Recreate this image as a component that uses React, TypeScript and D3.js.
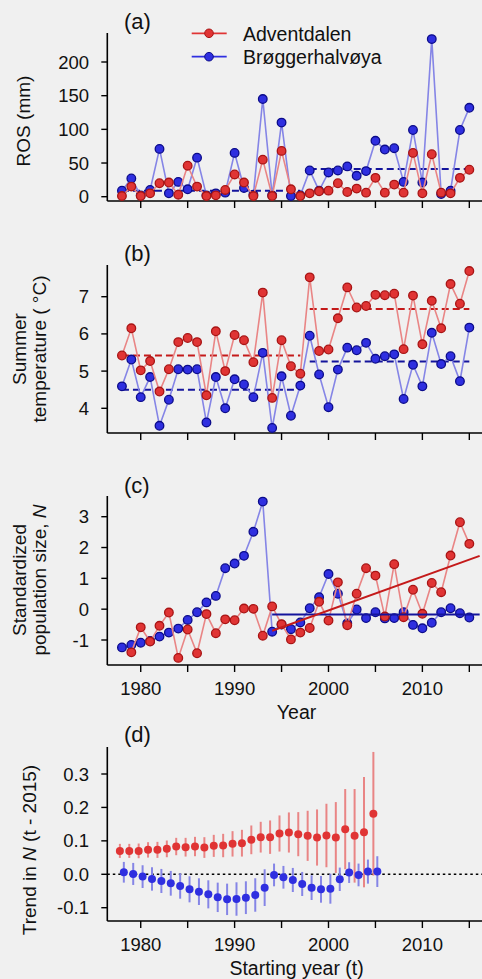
import React from 'react';
import * as d3 from 'd3';

// ---------- data ----------
const years = [1978, 1979, 1980, 1981, 1982, 1983, 1984, 1985, 1986, 1987, 1988, 1989, 1990, 1991, 1992, 1993, 1994, 1995, 1996, 1997, 1998, 1999, 2000, 2001, 2002, 2003, 2004, 2005, 2006, 2007, 2008, 2009, 2010, 2011, 2012, 2013, 2014, 2015];

const rosAdventdalen = [1, 15, 1, 5, 20, 21, 3, 46, 15, 1, 2, 10, 33, 21, 1, 55, 1, 68, 11, 1, 5, 8, 9, 20, 7, 12, 6, 28, 6, 18, 6, 65, 5, 63, 6, 5, 28, 40];
const rosBrogger = [9, 27, 2, 10, 71, 5, 22, 11, 58, 2, 5, 6, 65, 13, 3, 145, 2, 110, 1, 2, 39, 9, 36, 39, 45, 31, 38, 83, 70, 72, 22, 99, 21, 234, 4, 9, 99, 132];

const tempAdventdalen = [5.42, 6.15, 5.02, 5.27, 4.45, 5.05, 5.78, 5.89, 5.78, 4.35, 6.07, 5.0, 5.97, 5.83, 5.24, 7.11, 4.28, 5.83, 5.13, 4.93, 7.52, 5.54, 5.58, 6.42, 7.25, 6.71, 6.75, 7.05, 7.04, 7.08, 5.59, 7.03, 5.72, 6.89, 6.15, 7.34, 6.81, 7.69];
const tempBrogger = [4.59, 5.31, 4.3, 4.84, 3.53, 4.23, 5.05, 5.04, 5.05, 3.62, 4.84, 4.0, 4.78, 4.64, 4.3, 5.49, 3.47, 4.86, 3.8, 4.61, 5.95, 4.91, 4.03, 5.04, 5.63, 5.56, 5.76, 5.33, 5.4, 5.45, 4.25, 5.17, 4.59, 6.03, 5.19, 5.4, 4.73, 6.17];

const popAdventdalen = [null, -1.4, -0.59, -1.05, -0.54, -0.11, -1.58, -0.66, -1.43, -0.16, -0.78, -0.33, -0.36, 0.02, 0.01, -0.86, 0.09, -0.49, -0.98, -0.76, -0.61, 0.24, -0.37, 0.87, -0.52, 0.5, 1.33, 1.09, -0.24, 1.46, -0.26, 0.63, -0.15, 0.85, 0.55, 1.74, 2.82, 2.12];
const popBrogger = [-1.24, -1.16, -1.09, -1.03, -0.89, -0.76, -0.63, -0.35, -0.1, 0.22, 0.43, 1.33, 1.48, 1.73, 2.51, 3.49, -0.73, -0.5, -0.65, -0.43, 0.03, 0.39, 1.14, 0.5, -0.46, -0.01, -0.29, -0.1, -0.3, -0.29, -0.1, -0.51, -0.62, -0.44, -0.1, 0.03, -0.13, -0.27];

// period levels (dashed lines)
const periodStarts = [1978, 1998];
const periodEnds = [1997, 2015];
const rosBroggerLevels = [9, 41];
const tempAdventdalenLevels = [5.42, 6.67];
const tempBroggerLevels = [4.5, 5.26];

// population trend lines (c)
const trendLineYears = [1994, 2016.1];
const popAdventdalenFit = [-0.7, 1.73];
const popBroggerFit = [-0.17, -0.17];

// (d) trend in N from starting year t to 2015
const startYears = [1978, 1979, 1980, 1981, 1982, 1983, 1984, 1985, 1986, 1987, 1988, 1989, 1990, 1991, 1992, 1993, 1994, 1995, 1996, 1997, 1998, 1999, 2000, 2001, 2002, 2003, 2004, 2005];
const trendAdventdalen = [0.07, 0.07, 0.07, 0.073, 0.073, 0.076, 0.083, 0.081, 0.083, 0.08, 0.085, 0.086, 0.091, 0.093, 0.103, 0.111, 0.111, 0.122, 0.125, 0.12, 0.115, 0.11, 0.116, 0.11, 0.135, 0.115, 0.126, 0.181];
const trendAdventdalenErr = [0.021, 0.021, 0.022, 0.023, 0.024, 0.025, 0.026, 0.028, 0.029, 0.031, 0.033, 0.035, 0.038, 0.04, 0.043, 0.046, 0.05, 0.054, 0.06, 0.066, 0.075, 0.084, 0.095, 0.106, 0.12, 0.14, 0.165, 0.185];
const trendBrogger = [0.006, 0.001, -0.007, -0.014, -0.02, -0.027, -0.035, -0.045, -0.052, -0.06, -0.069, -0.075, -0.074, -0.07, -0.062, -0.04, -0.002, -0.009, -0.017, -0.029, -0.04, -0.045, -0.043, -0.015, 0.005, -0.002, 0.008, 0.008];
const trendBroggerErr = [0.031, 0.033, 0.034, 0.035, 0.036, 0.037, 0.038, 0.039, 0.04, 0.042, 0.044, 0.047, 0.05, 0.049, 0.05, 0.055, 0.034, 0.034, 0.036, 0.036, 0.037, 0.04, 0.045, 0.035, 0.031, 0.034, 0.036, 0.046];

const xTicks = [1980, 1985, 1990, 1995, 2000, 2005, 2010, 2015];
const xTickLabels = [1980, 1990, 2000, 2010];
const rosTicks = [0, 50, 100, 150, 200];
const tempTicks = [4, 5, 6, 7];
const popTicks = [-1, 0, 1, 2, 3];
const trendTicks = [-0.1, 0.0, 0.1, 0.2, 0.3];

const seriesNames = ['Adventdalen', 'Brøggerhalvøya'];

// ---------- styling ----------
const FONT = "'Liberation Sans', Arial, Helvetica, sans-serif";
const RED = '#e03434';
const RED_EDGE = '#a81414';
const RED_LINE = '#e98585';
const RED_DARK = '#c41a1a';
const BLUE = '#2f2fe0';
const BLUE_EDGE = '#0b0b8a';
const BLUE_LINE = '#8585e6';
const BLUE_DARK = '#14149c';
const BG = '#f0f0f0';

const X_LEFT = 107.3;
const X_RIGHT = 482;

type Panel = {
  top: number;
  bottom: number;
  y: d3.ScaleLinear<number, number>;
  ticks: number[];
  fmt: (v: number) => string;
};

function Axes({ p, x, labels }: { p: Panel; x: d3.ScaleLinear<number, number>; labels: boolean }) {
  return (
    <g>
      <line x1={X_LEFT} x2={X_LEFT} y1={p.top} y2={p.bottom} stroke="#000" strokeWidth={1.6} />
      <line x1={X_LEFT} x2={X_RIGHT} y1={p.bottom} y2={p.bottom} stroke="#000" strokeWidth={1.6} />
      {p.ticks.map((t) => (
        <g key={'y' + t}>
          <line x1={X_LEFT - 6} x2={X_LEFT} y1={p.y(t)} y2={p.y(t)} stroke="#000" strokeWidth={1.4} />
          <text x={89} y={p.y(t) + 6.5} textAnchor="end" fontSize={18.5} fontFamily={FONT} fill="#111">
            {p.fmt(t)}
          </text>
        </g>
      ))}
      {xTicks.map((t) => (
        <line key={'x' + t} x1={x(t)} x2={x(t)} y1={p.bottom} y2={p.bottom + 7} stroke="#000" strokeWidth={1.4} />
      ))}
      {labels &&
        xTickLabels.map((t) => (
          <text key={'xl' + t} x={x(t)} y={p.bottom + 30} textAnchor="middle" fontSize={18.5} fontFamily={FONT} fill="#111">
            {t}
          </text>
        ))}
    </g>
  );
}

function Series({
  xs,
  vals,
  x,
  y,
  color,
  edge,
  lineColor,
}: {
  xs: number[];
  vals: (number | null)[];
  x: d3.ScaleLinear<number, number>;
  y: d3.ScaleLinear<number, number>;
  color: string;
  edge: string;
  lineColor: string;
}) {
  const pts = xs.map((yr, i) => ({ yr, v: vals[i] }));
  const line = d3
    .line<{ yr: number; v: number | null }>()
    .defined((d) => d.v !== null)
    .x((d) => x(d.yr))
    .y((d) => y(d.v as number));
  return (
    <g>
      <path d={line(pts) || ''} fill="none" stroke={lineColor} strokeWidth={1.6} />
      {pts
        .filter((d) => d.v !== null)
        .map((d) => (
          <circle key={d.yr} cx={x(d.yr)} cy={y(d.v as number)} r={4.3} fill={color} stroke={edge} strokeWidth={1.3} />
        ))}
    </g>
  );
}

function Levels({
  levels,
  x,
  y,
  color,
}: {
  levels: number[];
  x: d3.ScaleLinear<number, number>;
  y: d3.ScaleLinear<number, number>;
  color: string;
}) {
  return (
    <g>
      {levels.map((v, i) => (
        <line
          key={i}
          x1={x(periodStarts[i])}
          x2={x(periodEnds[i])}
          y1={y(v)}
          y2={y(v)}
          stroke={color}
          strokeWidth={2}
          strokeDasharray="7,4"
        />
      ))}
    </g>
  );
}

export default function App() {
  const x = d3.scaleLinear().domain([1976.44, 2016.35]).range([X_LEFT, X_RIGHT]);

  const pa: Panel = { top: 33, bottom: 201, y: d3.scaleLinear().domain([0, 200]).range([196.7, 62]), ticks: rosTicks, fmt: (v) => String(v) };
  const pb: Panel = { top: 265, bottom: 433, y: d3.scaleLinear().domain([4, 7]).range([408.3, 296.7]), ticks: tempTicks, fmt: (v) => String(v) };
  const pc: Panel = { top: 496, bottom: 665, y: d3.scaleLinear().domain([-1, 3]).range([640, 516.7]), ticks: popTicks, fmt: (v) => String(v) };
  const pd: Panel = { top: 747, bottom: 921, y: d3.scaleLinear().domain([-0.1, 0.3]).range([907.7, 774]), ticks: trendTicks, fmt: (v) => v.toFixed(1) };

  const label = (txt: string, yy: number) => (
    <text x={124} y={yy} fontSize={22} fontFamily={FONT} fill="#111">
      {txt}
    </text>
  );

  const yTitle = (cx: number, cy: number, content: React.ReactNode) => (
    <text transform={`translate(${cx},${cy}) rotate(-90)`} textAnchor="middle" fontSize={19} fontFamily={FONT} fill="#111">
      {content}
    </text>
  );

  const dodgeRed = -0.22;
  const dodgeBlue = 0.2;

  return (
    <svg width={482} height={979} style={{ position: 'absolute', left: 0, top: 0, background: BG }} xmlns="http://www.w3.org/2000/svg">
      <rect x={0} y={0} width={482} height={979} fill={BG} />

      {/* Panel a */}
      {label('(a)', 29)}
      <Axes p={pa} x={x} labels={false} />
      <Levels levels={rosBroggerLevels} x={x} y={pa.y} color={BLUE_DARK} />
      <Series xs={years} vals={rosBrogger} x={x} y={pa.y} color={BLUE} edge={BLUE_EDGE} lineColor={BLUE_LINE} />
      <Series xs={years} vals={rosAdventdalen} x={x} y={pa.y} color={RED} edge={RED_EDGE} lineColor={RED_LINE} />
      {yTitle(30, 121, 'ROS (mm)')}
      {/* legend */}
      {[RED, BLUE].map((c, i) => (
        <g key={c}>
          <line x1={191.7} x2={226.7} y1={33.3 + i * 23.4} y2={33.3 + i * 23.4} stroke={i === 0 ? RED : BLUE} strokeWidth={1.8} />
          <circle cx={209} cy={33.3 + i * 23.4} r={4.3} fill={c} stroke={i === 0 ? RED_EDGE : BLUE_EDGE} strokeWidth={1} />
          <text x={243} y={40.5 + i * 23.4} fontSize={19.5} fontFamily={FONT} fill="#111">
            {seriesNames[i]}
          </text>
        </g>
      ))}

      {/* Panel b */}
      {label('(b)', 261)}
      <Axes p={pb} x={x} labels={false} />
      <Levels levels={tempAdventdalenLevels} x={x} y={pb.y} color={RED_DARK} />
      <Levels levels={tempBroggerLevels} x={x} y={pb.y} color={BLUE_DARK} />
      <Series xs={years} vals={tempBrogger} x={x} y={pb.y} color={BLUE} edge={BLUE_EDGE} lineColor={BLUE_LINE} />
      <Series xs={years} vals={tempAdventdalen} x={x} y={pb.y} color={RED} edge={RED_EDGE} lineColor={RED_LINE} />
      {yTitle(26, 349, 'Summer')}
      {yTitle(46, 349, 'temperature ( °C)')}

      {/* Panel c */}
      {label('(c)', 493)}
      <Axes p={pc} x={x} labels={true} />
      <Series xs={years} vals={popBrogger} x={x} y={pc.y} color={BLUE} edge={BLUE_EDGE} lineColor={BLUE_LINE} />
      <Series xs={years} vals={popAdventdalen} x={x} y={pc.y} color={RED} edge={RED_EDGE} lineColor={RED_LINE} />
      <line x1={x(trendLineYears[0])} x2={x(trendLineYears[1])} y1={pc.y(popBroggerFit[0])} y2={pc.y(popBroggerFit[1])} stroke={BLUE_DARK} strokeWidth={2} />
      <line x1={x(trendLineYears[0])} x2={x(trendLineYears[1])} y1={pc.y(popAdventdalenFit[0])} y2={pc.y(popAdventdalenFit[1])} stroke={RED_DARK} strokeWidth={2} />
      {yTitle(26, 580, 'Standardized')}
      {yTitle(
        46,
        580,
        <>
          population size, <tspan fontStyle="italic">N</tspan>
        </>
      )}
      <text x={x(1996.6)} y={719} textAnchor="middle" fontSize={19.5} fontFamily={FONT} fill="#111">
        Year
      </text>

      {/* Panel d */}
      {label('(d)', 742)}
      <Axes p={pd} x={x} labels={true} />
      <line x1={X_LEFT} x2={X_RIGHT} y1={pd.y(0)} y2={pd.y(0)} stroke="#000" strokeWidth={1.5} strokeDasharray="2.5,3" />
      {startYears.map((t, i) => (
        <g key={'r' + t}>
          <line
            x1={x(t + dodgeRed)}
            x2={x(t + dodgeRed)}
            y1={pd.y(trendAdventdalen[i] - trendAdventdalenErr[i])}
            y2={pd.y(trendAdventdalen[i] + trendAdventdalenErr[i])}
            stroke={RED_LINE}
            strokeWidth={2}
          />
          <circle cx={x(t + dodgeRed)} cy={pd.y(trendAdventdalen[i])} r={4} fill={RED} />
        </g>
      ))}
      {startYears.map((t, i) => (
        <g key={'b' + t}>
          <line
            x1={x(t + dodgeBlue)}
            x2={x(t + dodgeBlue)}
            y1={pd.y(trendBrogger[i] - trendBroggerErr[i])}
            y2={pd.y(trendBrogger[i] + trendBroggerErr[i])}
            stroke={BLUE_LINE}
            strokeWidth={2}
          />
          <circle cx={x(t + dodgeBlue)} cy={pd.y(trendBrogger[i])} r={4} fill={BLUE} />
        </g>
      ))}
      {yTitle(
        36,
        850,
        <>
          Trend in <tspan fontStyle="italic">N</tspan> (t - 2015)
        </>
      )}
      <text x={x(1996.6)} y={975} textAnchor="middle" fontSize={19.5} fontFamily={FONT} fill="#111">
        Starting year (t)
      </text>
    </svg>
  );
}
